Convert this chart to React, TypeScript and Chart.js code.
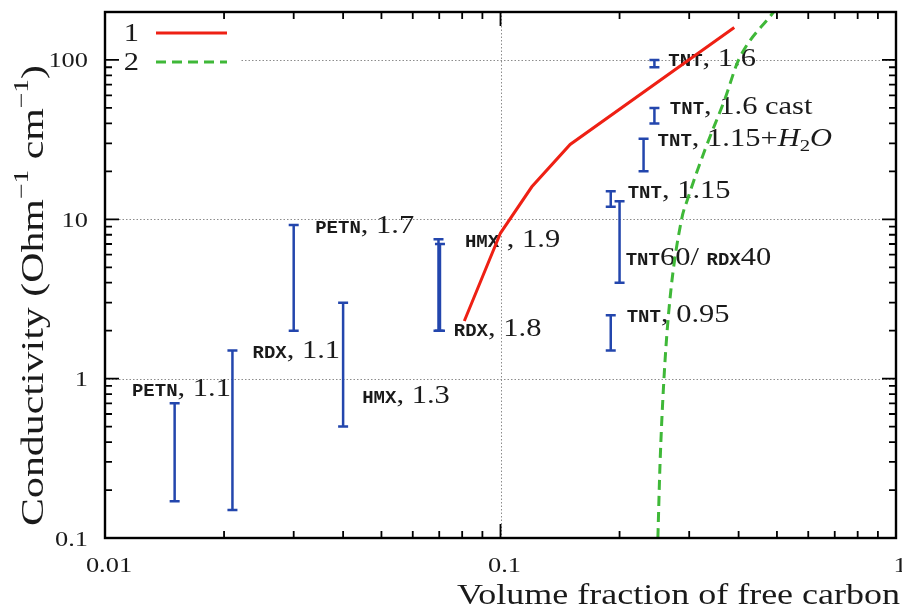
import React, { useEffect, useRef } from "react";
import { Chart, registerables } from "chart.js";

Chart.register(...registerables);

// ---- axis ticks ----
const xTicks = [0.01, 0.1, 1];
const xTickLabels = ["0.01", "0.1", "1"];
const yTicks = [0.1, 1, 10, 100];
const yTickLabels = ["0.1", "1", "10", "100"];

// ---- curve 1 (red, solid) ----
const curve1X = [0.081, 0.1, 0.12, 0.15, 0.39];
const curve1Y = [2.3, 8.2, 16, 29.5, 160];

// ---- curve 2 (green, dashed) ----
const curve2X = [0.25, 0.253, 0.259, 0.268, 0.287, 0.297, 0.329, 0.369, 0.4, 0.49];
const curve2Y = [0.1, 0.28, 1, 3.1, 10, 13.3, 27.4, 56.6, 100, 200];

// ---- experimental ranges (error bars) ----
const barX = [0.015, 0.021, 0.03, 0.04, 0.0697, 0.0703, 0.19, 0.2, 0.19, 0.23, 0.245, 0.245];
const barLow = [0.17, 0.15, 2.0, 0.5, 2.0, 2.0, 1.5, 4, 12, 20, 40, 90];
const barHigh = [0.7, 1.5, 9.2, 3.0, 7.5, 7.0, 2.5, 13, 15, 32, 50, 100];

// ---- annotation labels (anchor in data units) ----
const labelX = [0.0117, 0.0236, 0.034, 0.0447, 0.0813, 0.0762, 0.2657, 0.268, 0.2496, 0.2097, 0.2073, 0.2085];
const labelY = [0.778, 1.35, 8.25, 0.706, 6.7, 1.86, 91.7, 45.6, 28.8, 13.6, 5.19, 2.28];
const labelParts: string[][][] = [
  [["tt", "PETN"], ["rm", ", 1.1"]],
  [["tt", "RDX"], ["rm", ", 1.1"]],
  [["tt", "PETN"], ["rm", ", 1.7"]],
  [["tt", "HMX"], ["rm", ", 1.3"]],
  [["tt", "HMX"], ["rm", " , 1.9"]],
  [["tt", "RDX"], ["rm", ", 1.8"]],
  [["tt", "TNT"], ["rm", ", 1.6"]],
  [["tt", "TNT"], ["rm", ", 1.6 cast"]],
  [["tt", "TNT"], ["rm", ", 1.15+"], ["it", "H"], ["sub", "2"], ["it", "O"]],
  [["tt", "TNT"], ["rm", ", 1.15"]],
  [["tt", "TNT"], ["rm", "60/ "], ["tt", "RDX"], ["rm", "40"]],
  [["tt", "TNT"], ["rm", ", 0.95"]],
];

const seriesLabels = ["1", "2"];
const xTitle = "Volume fraction of free carbon";
const yTitleParts: string[][] = [
  ["big", "Conductivity (Ohm"],
  ["bigsup", "\u22121"],
  ["big", " cm"],
  ["bigsup", "\u22121"],
  ["big", ")"],
];

const RED = "#ee2014";
const GREEN = "#3fb838";
const BLUE = "#2346ad";
const INK = "#1a1a1a";
const SERIF = '"Liberation Serif", "Times New Roman", serif';
const MONO = '"Liberation Mono", "DejaVu Sans Mono", monospace';
const SX = 1.22; // horizontal widening of serif text

type Style = { font: string; sx: number; dy: number };
function styleFor(kind: string): Style {
  switch (kind) {
    case "tt":
      return { font: `bold 19px ${MONO}`, sx: 1, dy: 0 };
    case "it":
      return { font: `italic 25px ${SERIF}`, sx: SX, dy: 0 };
    case "sub":
      return { font: `17px ${SERIF}`, sx: SX, dy: 5 };
    case "big":
      return { font: `32px ${SERIF}`, sx: 1, dy: 0 };
    case "bigsup":
      return { font: `21px ${SERIF}`, sx: 1, dy: -15 };
    default:
      return { font: `25px ${SERIF}`, sx: SX, dy: 0 };
  }
}

function measureParts(ctx: CanvasRenderingContext2D, parts: string[][]) {
  let w = 0;
  for (const [kind, text] of parts) {
    const st = styleFor(kind);
    ctx.font = st.font;
    w += ctx.measureText(text).width * st.sx;
  }
  return w;
}

function drawParts(ctx: CanvasRenderingContext2D, parts: string[][], x: number, y: number, extra = 1) {
  let cx = x;
  for (const [kind, text] of parts) {
    const st = styleFor(kind);
    ctx.font = st.font;
    const sx = st.sx * extra;
    ctx.save();
    ctx.translate(cx, y + st.dy);
    ctx.scale(sx, 1);
    ctx.fillText(text, 0, 0);
    ctx.restore();
    cx += ctx.measureText(text).width * sx;
  }
  return cx;
}

function drawScaled(ctx: CanvasRenderingContext2D, text: string, x: number, y: number, sx: number, align: string) {
  const w = ctx.measureText(text).width * sx;
  let x0 = x;
  if (align === "right") x0 = x - w;
  if (align === "center") x0 = x - w / 2;
  ctx.save();
  ctx.textAlign = "left";
  ctx.translate(x0, y);
  ctx.scale(sx, 1);
  ctx.fillText(text, 0, 0);
  ctx.restore();
}

const decor = {
  id: "decor",
  beforeDatasetsDraw(chart: any) {
    const ctx: CanvasRenderingContext2D = chart.ctx;
    const { left, right, top, bottom } = chart.chartArea;
    const xs = chart.scales.x;
    const ys = chart.scales.y;
    ctx.save();
    // dotted grid at decades
    ctx.strokeStyle = "#8c8c8c";
    ctx.lineWidth = 1;
    ctx.setLineDash([1.5, 2]);
    for (const v of xTicks) {
      const p = Math.round(xs.getPixelForValue(v)) + 0.5;
      if (p > left + 2 && p < right - 2) {
        ctx.beginPath();
        ctx.moveTo(p, top);
        ctx.lineTo(p, bottom);
        ctx.stroke();
      }
    }
    for (const v of yTicks) {
      const p = Math.round(ys.getPixelForValue(v)) + 0.5;
      if (p > top + 2 && p < bottom - 2) {
        ctx.beginPath();
        ctx.moveTo(left, p);
        ctx.lineTo(right, p);
        ctx.stroke();
      }
    }
    ctx.setLineDash([]);

    // labels
    ctx.fillStyle = INK;
    ctx.textBaseline = "alphabetic";
    ctx.textAlign = "left";
    for (let i = 0; i < labelParts.length; i++) {
      const px = xs.getPixelForValue(labelX[i]);
      const py = ys.getPixelForValue(labelY[i]);
      drawParts(ctx, labelParts[i], px, py);
    }

    // error bars
    ctx.strokeStyle = BLUE;
    ctx.lineWidth = 2.5;
    ctx.lineCap = "butt";
    for (let i = 0; i < barX.length; i++) {
      const px = xs.getPixelForValue(barX[i]);
      const y1 = ys.getPixelForValue(barLow[i]);
      const y2 = ys.getPixelForValue(barHigh[i]);
      ctx.beginPath();
      ctx.moveTo(px, y1);
      ctx.lineTo(px, y2);
      ctx.moveTo(px - 5, y1);
      ctx.lineTo(px + 5, y1);
      ctx.moveTo(px - 5, y2);
      ctx.lineTo(px + 5, y2);
      ctx.stroke();
    }
    ctx.restore();
  },
  afterDatasetsDraw(chart: any) {
    const ctx: CanvasRenderingContext2D = chart.ctx;
    const { left, right, top, bottom } = chart.chartArea;
    const xs = chart.scales.x;
    const ys = chart.scales.y;
    const ds = chart.data.datasets;
    ctx.save();

    // legend
    ctx.fillStyle = "#ffffff";
    ctx.fillRect(left + 1, top + 1, 134, 62);
    for (let i = 0; i < seriesLabels.length; i++) {
      const ly = top + 21 + i * 29;
      ctx.fillStyle = INK;
      ctx.font = `25px ${SERIF}`;
      ctx.textBaseline = "alphabetic";
      drawScaled(ctx, seriesLabels[i], left + 34, ly + 8, SX, "right");
      ctx.strokeStyle = ds[i].borderColor;
      ctx.lineWidth = 3;
      ctx.setLineDash(ds[i].borderDash || []);
      ctx.beginPath();
      ctx.moveTo(left + 51, ly);
      ctx.lineTo(left + 122, ly);
      ctx.stroke();
      ctx.setLineDash([]);
    }

    // frame
    ctx.strokeStyle = "#000";
    ctx.lineWidth = 2.4;
    ctx.strokeRect(left, top, right - left, bottom - top);

    // inward ticks
    ctx.lineWidth = 1.8;
    const major = 14;
    const minor = 7;
    const xMinDec = Math.floor(Math.log10(xs.min));
    const xMaxDec = Math.ceil(Math.log10(xs.max));
    for (let d = xMinDec; d <= xMaxDec; d++) {
      for (let k = 1; k <= 9; k++) {
        const v = k * Math.pow(10, d);
        if (v <= xs.min * 1.0001 || v >= xs.max * 0.9999) continue;
        const p = xs.getPixelForValue(v);
        const L = k === 1 ? major : minor;
        ctx.beginPath();
        ctx.moveTo(p, bottom);
        ctx.lineTo(p, bottom - L);
        ctx.moveTo(p, top);
        ctx.lineTo(p, top + L);
        ctx.stroke();
      }
    }
    const yMinDec = Math.floor(Math.log10(ys.min));
    const yMaxDec = Math.ceil(Math.log10(ys.max));
    for (let d = yMinDec; d <= yMaxDec; d++) {
      for (let k = 1; k <= 9; k++) {
        const v = k * Math.pow(10, d);
        if (v <= ys.min * 1.0001 || v >= ys.max * 0.9999) continue;
        const p = ys.getPixelForValue(v);
        const L = k === 1 ? major : minor;
        ctx.beginPath();
        ctx.moveTo(left, p);
        ctx.lineTo(left + L, p);
        ctx.moveTo(right, p);
        ctx.lineTo(right - L, p);
        ctx.stroke();
      }
    }

    // tick labels
    ctx.fillStyle = INK;
    ctx.font = `22px ${SERIF}`;
    ctx.textBaseline = "alphabetic";
    for (let i = 0; i < yTicks.length; i++) {
      const p = ys.getPixelForValue(yTicks[i]);
      drawScaled(ctx, yTickLabels[i], left - 17, p + 7.5, 1.2, "right");
    }
    for (let i = 0; i < xTicks.length; i++) {
      const p = xs.getPixelForValue(xTicks[i]);
      drawScaled(ctx, xTickLabels[i], p + 4, bottom + 34, 1.2, "center");
    }

    // x axis title: fit between 457 and the right edge
    ctx.font = `29px ${SERIF}`;
    const xw = ctx.measureText(xTitle).width;
    drawScaled(ctx, xTitle, 457, bottom + 66, 443 / xw, "left");

    // y axis title (rotated), spanning y 526 -> 65
    ctx.save();
    ctx.translate(43, 526);
    ctx.rotate(-Math.PI / 2);
    const yw = measureParts(ctx, yTitleParts);
    drawParts(ctx, yTitleParts, 0, 0, 461 / yw);
    ctx.restore();

    ctx.restore();
  },
};

export default function App() {
  const ref = useRef<HTMLCanvasElement | null>(null);
  useEffect(() => {
    document.body.style.margin = "0";
    const canvas = ref.current;
    if (!canvas) return;
    const chart = new Chart(canvas, {
      type: "line",
      data: {
        datasets: [
          {
            label: seriesLabels[0],
            data: curve1X.map((x, i) => ({ x, y: curve1Y[i] })),
            borderColor: RED,
            borderWidth: 3,
            pointRadius: 0,
            tension: 0,
            fill: false,
          },
          {
            label: seriesLabels[1],
            data: curve2X.map((x, i) => ({ x, y: curve2Y[i] })),
            borderColor: GREEN,
            borderWidth: 3,
            borderDash: [10, 6],
            pointRadius: 0,
            cubicInterpolationMode: "monotone",
            fill: false,
          },
        ],
      },
      options: {
        animation: false,
        responsive: false,
        maintainAspectRatio: false,
        layout: { padding: { top: 12, right: 6, left: 0, bottom: 0 } },
        plugins: {
          legend: { display: false },
          tooltip: { enabled: false },
          title: { display: false },
        },
        scales: {
          x: {
            type: "logarithmic",
            min: 0.01,
            max: 1,
            grid: { display: false },
            border: { display: false },
            ticks: { display: false },
            afterFit: (s: any) => {
              s.height = 75;
            },
          },
          y: {
            type: "logarithmic",
            min: 0.1,
            max: 200,
            grid: { display: false },
            border: { display: false },
            ticks: { display: false },
            afterFit: (s: any) => {
              s.width = 105;
            },
          },
        },
      },
      plugins: [decor],
    } as any);
    return () => chart.destroy();
  }, []);
  return (
    <div style={{ width: 902, height: 613, background: "#fff" }}>
      <canvas ref={ref} width={902} height={613} style={{ display: "block" }} />
    </div>
  );
}
